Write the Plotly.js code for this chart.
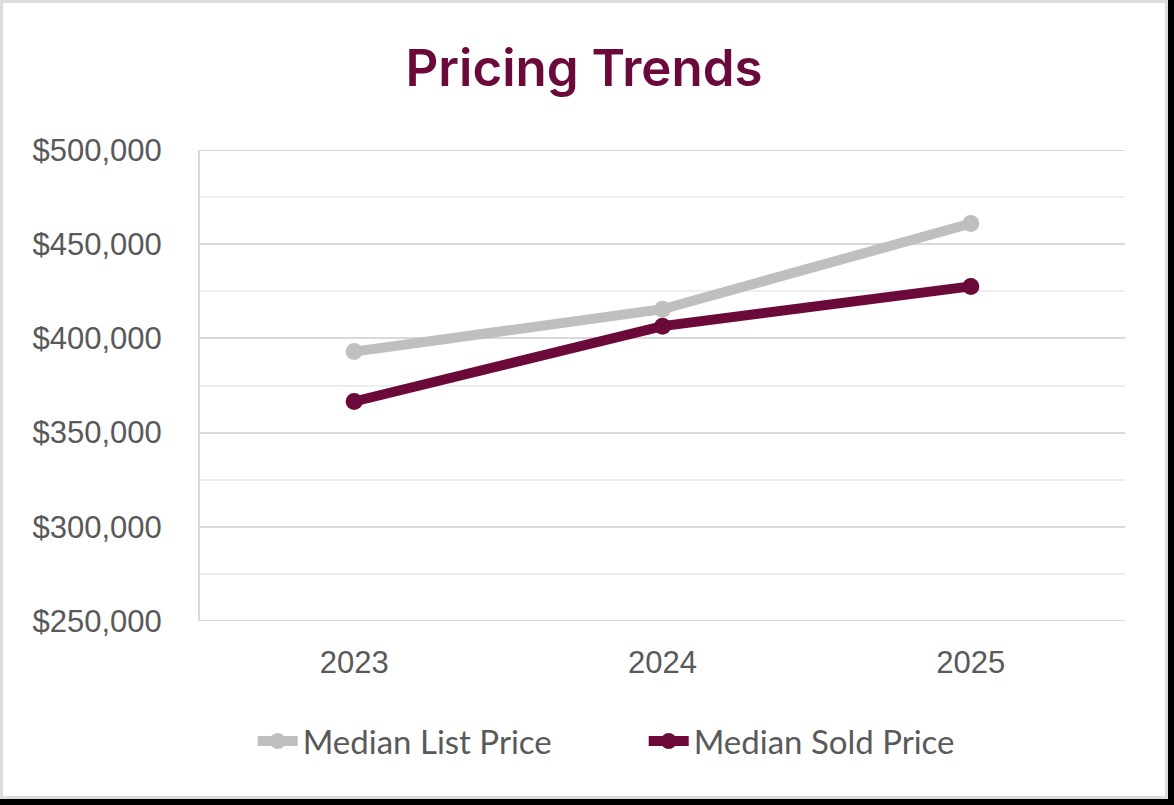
<!DOCTYPE html>
<html>
<head>
<meta charset="utf-8">
<script src="https://cdn.plot.ly/plotly-3.0.1.min.js"></script>
<style>
  html, body { margin: 0; padding: 0; background: #000; }
  #wrap { position: absolute; left: 0; top: 0; width: 1162px; height: 793px; border: 3px solid #dcdcdc; background: #fff; }
  #chart { width: 1162px; height: 793px; }
</style>
</head>
<body>
<div id="wrap"><div id="chart"></div></div>
<script>
const years = ['2023', '2024', '2025'];
const medianListPrice = [393000, 415500, 461000];
const medianSoldPrice = [366500, 406500, 427600];
const yTickValues = [250000, 300000, 350000, 400000, 450000, 500000];
const yTickLabels = ['$250,000', '$300,000', '$350,000', '$400,000', '$450,000', '$500,000'];

const grayColor = '#BFBFBF';
const maroonColor = '#6B0A3A';

const traces = [
  {
    x: years, y: medianListPrice, name: 'Median List Price',
    type: 'scatter', mode: 'lines+markers',
    line: { color: grayColor, width: 10 },
    marker: { color: grayColor, size: 17 }
  },
  {
    x: years, y: medianSoldPrice, name: 'Median Sold Price',
    type: 'scatter', mode: 'lines+markers',
    line: { color: maroonColor, width: 10 },
    marker: { color: maroonColor, size: 17 }
  }
];

// edge gridlines (at the first and last tick), which Plotly omits at the range limits
const edgeGrid = [yTickValues[0], yTickValues[yTickValues.length - 1]].map(v => ({
  type: 'line', xref: 'paper', yref: 'y', x0: 0, x1: 1, y0: v, y1: v,
  line: { color: '#d9d9d9', width: 2 }, layer: 'below'
}));

const layout = {
  width: 1162, height: 793,
  margin: { l: 197, r: 40, t: 147, b: 175 },
  paper_bgcolor: '#ffffff', plot_bgcolor: '#ffffff',
  showlegend: true,
  title: {
    text: 'Pricing Trends',
    font: { family: 'Inter, Lato, sans-serif', size: 51, color: maroonColor, weight: 600 },
    x: 0.5, xanchor: 'center', y: 0.918, yanchor: 'middle'
  },
  xaxis: {
    type: 'category',
    range: [-0.5, 2.5],
    showgrid: false, zeroline: false,
    showline: false,
    ticks: '',
    tickfont: { family: 'Liberation Sans, Arial, sans-serif', size: 31, color: '#595959' },
    ticklabelstandoff: 20
  },
  yaxis: {
    range: [250000, 500000],
    tickvals: yTickValues, ticktext: yTickLabels,
    showgrid: true, gridcolor: '#d9d9d9', gridwidth: 2,
    minor: { dtick: 25000, tick0: 250000, showgrid: true, gridcolor: '#eeeeee', gridwidth: 2 },
    zeroline: false,
    showline: true, linecolor: '#d9d9d9', linewidth: 2,
    ticks: '',
    tickfont: { family: 'Liberation Sans, Arial, sans-serif', size: 31, color: '#595959' },
    ticklabelstandoff: 30
  },
  shapes: edgeGrid,
  legend: {
    orientation: 'h', x: 0.057, xanchor: 'left', y: -0.255, yanchor: 'middle',
    font: { family: 'Lato, Inter, sans-serif', size: 33, color: '#595959' },
    itemwidth: 40,
    entrywidth: 336, entrywidthmode: 'pixels'
  }
};

Plotly.newPlot('chart', traces, layout, { displayModeBar: false, staticPlot: true });
</script>
</body>
</html>
